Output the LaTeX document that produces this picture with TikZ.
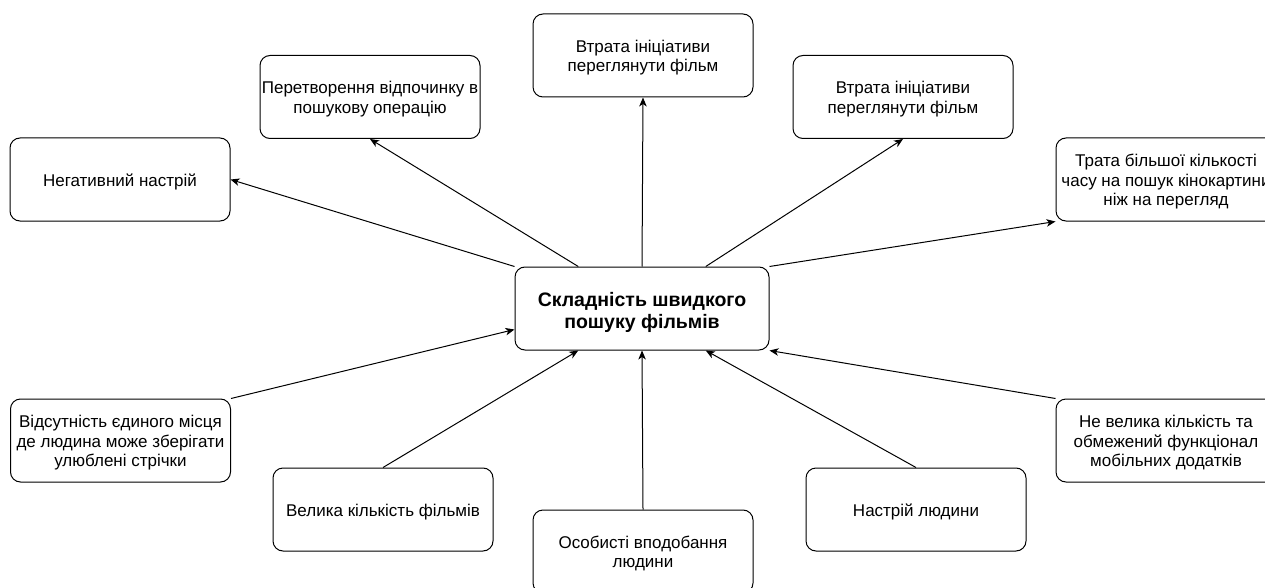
\documentclass[tikz,border=0pt]{standalone}
\usepackage{fontspec}
\setmainfont{Liberation Sans}
\usetikzlibrary{arrows.meta,calc}

% centred stack of lines; the first-row strut sets where the block sits
\newcommand\boxlines[1]{\begin{tabular}{@{}c@{}}\rule{0pt}{19.2pt}#1\end{tabular}}
\newcommand\mainlines[1]{\begin{tabular}{@{}c@{}}\rule{0pt}{24pt}#1\end{tabular}}

\tikzset{
  box/.style={draw=black, line width=1pt, rounded corners=10pt, fill=white,
    minimum width=220pt, minimum height=83pt, inner sep=0pt,
    font=\fontsize{17}{19.4}\selectfont},
  mainbox/.style={box, minimum width=254pt,
    font=\fontsize{19.5}{22}\selectfont\bfseries},
  link/.style={draw=black, line width=1pt,
    -{Stealth[length=9pt,width=7.5pt,inset=2.5pt]}}
}

\begin{document}
\begin{tikzpicture}[x=1pt,y=-1pt]
  \useasboundingbox (0,0) rectangle (1265,588);
  \clip (0,0) rectangle (1265,588);

  % central problem
  \node[mainbox] (cen) at (642,308.5) {\mainlines{Складність швидкого\\пошуку фільмів}};

  % consequences
  \node[box] (neg) at (120,179.5) {\boxlines{Негативний настрій}};
  \node[box] (per) at (370,97) {\boxlines{Перетворення відпочинку в\\пошукову операцію}};
  \node[box] (vt1) at (643,55.5) {\boxlines{Втрата ініціативи\\переглянути фільм}};
  \node[box] (vt2) at (903,97) {\boxlines{Втрата ініціативи\\переглянути фільм}};
  \node[box] (tra) at (1166,179.5) {\boxlines{Трата більшої кількості\\часу на пошук кінокартини\\ніж на перегляд}};

  % causes
  \node[box] (vid) at (120.5,440.5) {\boxlines{Відсутність єдиного місця\\де людина може зберігати\\улюблені стрічки}};
  \node[box] (vel) at (383,509.5) {\boxlines{Велика кількість фільмів}};
  \node[box] (oso) at (643,551.5) {\boxlines{Особисті вподобання\\людини}};
  \node[box] (nas) at (916,509.5) {\boxlines{Настрій людини}};
  \node[box] (nev) at (1166,440.5) {\boxlines{Не велика кількість та\\обмежений функціонал\\мобільних додатків}};

  % attachment points on the central box
  \coordinate (cT1) at ($(cen.north west)!0.25!(cen.north east)$);
  \coordinate (cT3) at ($(cen.north west)!0.75!(cen.north east)$);
  \coordinate (cB1) at ($(cen.south west)!0.25!(cen.south east)$);
  \coordinate (cB3) at ($(cen.south west)!0.75!(cen.south east)$);
  \coordinate (cL3) at ($(cen.north west)!0.75!(cen.south west)$);

  % outgoing effects
  \draw[link] (cen.north west) -- (neg.east);
  \draw[link] (cT1) -- (per.south);
  \draw[link] (cen.north) -- (vt1.south);
  \draw[link] (cT3) -- (vt2.south);
  \draw[link] (cen.north east) -- (tra.south west);

  % incoming causes
  \draw[link] (vid.north east) -- (cL3);
  \draw[link] (vel.north) -- (cB1);
  \draw[link] (oso.north) -- (cen.south);
  \draw[link] (nas.north) -- (cB3);
  \draw[link] (nev.north west) -- (cen.south east);
\end{tikzpicture}
\end{document}
